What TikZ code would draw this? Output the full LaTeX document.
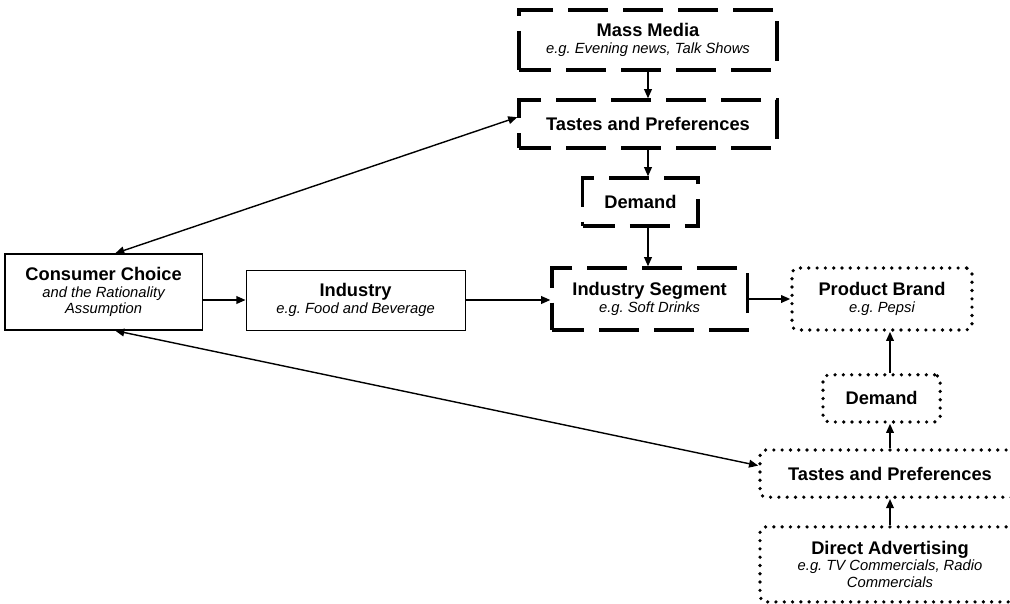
\documentclass[tikz,border=0pt]{standalone}
\usepackage{fontspec}
\setmainfont{Liberation Sans}
\usetikzlibrary{arrows.meta, positioning}
\frenchspacing
\newcommand{\boxtitle}[1]{{\fontsize{13}{15}\selectfont\bfseries #1}}
\newcommand{\boxnote}[1]{{\fontsize{10.5}{12}\selectfont\itshape #1}}

\begin{document}
\begin{tikzpicture}[
   plainbox/.style={rectangle, draw=black, line width=0.9pt, align=center,
                    inner sep=1pt},
   dashbox/.style={rectangle, draw=black, line width=2.4pt, align=center,
                   inner sep=1pt, dash pattern=on 1cm off 0.375cm,
                   dash phase=0.2cm},
   dotbox/.style={rectangle, draw=black, line width=2.6pt, align=center,
                  inner sep=1pt, rounded corners=4pt, line cap=round,
                  dash pattern=on 0pt off 5.9pt},
   conn/.style={-{Triangle[length=6.5pt, width=5.5pt]}, line width=1pt},
   biconn/.style={{Triangle[length=6.5pt, width=5.5pt]}-{Triangle[length=6.5pt, width=5.5pt]},
                  line width=1pt}]

\useasboundingbox (0,0) rectangle (25.25,-15.1);
\clip (0,0) rectangle (25.25,-15.1);

% main row
\node[plainbox, minimum width=4.93cm, minimum height=1.90cm] (cons) at (2.59,-7.30)
     {\boxtitle{Consumer Choice}\\
      \boxnote{and the Rationality}\\ \boxnote{Assumption}};
\node[plainbox, line width=0.7pt, minimum width=5.48cm, minimum height=1.50cm] (ind) at (8.89,-7.50)
     {\boxtitle{Industry}\\ \boxnote{e.g. Food and Beverage}};
\node[dashbox, minimum width=4.88cm, minimum height=1.55cm] (seg) at (16.24,-7.475)
     {\boxtitle{Industry Segment}\\ \boxnote{e.g. Soft Drinks}};
\node[dotbox, minimum width=4.50cm, minimum height=1.55cm] (brand) at (22.05,-7.475)
     {\boxtitle{Product Brand}\\ \boxnote{e.g. Pepsi}};

% upper column
\node[dashbox, minimum width=6.45cm, minimum height=1.50cm] (media) at (16.20,-1.00)
     {\boxtitle{Mass Media}\\ \boxnote{e.g. Evening news, Talk Shows}};
\node[dashbox, minimum width=6.45cm, minimum height=1.20cm] (tasteA) at (16.20,-3.10)
     {\boxtitle{Tastes and Preferences}};
\node[dashbox, minimum width=2.88cm, minimum height=1.20cm] (demA) at (16.01,-5.05)
     {\boxtitle{Demand}};

% lower column
\node[dotbox, minimum width=2.93cm, minimum height=1.18cm] (demB) at (22.04,-9.96)
     {\boxtitle{Demand}};
\node[dotbox, minimum width=6.50cm, minimum height=1.18cm] (tasteB) at (22.25,-11.84)
     {\boxtitle{Tastes and Preferences}};
\node[dotbox, minimum width=6.50cm, minimum height=1.875cm] (adv) at (22.25,-14.11)
     {\boxtitle{Direct Advertising}\\
      \boxnote{e.g. TV Commercials, Radio}\\ \boxnote{Commercials}};

% connectors
\draw[conn] (cons.east |- ind) -- (ind.west);
\draw[conn] (ind.east) -- (seg.west |- ind);
\draw[conn] (seg.east |- brand) -- (brand.west);
\draw[conn] (media.south) -- (tasteA.north);
\draw[conn] (tasteA.south) -- (demA.north -| tasteA);
\draw[conn] (demA.south -| tasteA) -- (seg.north -| tasteA);
\draw[conn] (adv.north) -- (tasteB.south);
\draw[conn] (tasteB.north) -- (demB.south -| tasteB);
\draw[conn] (demB.north -| tasteB) -- (brand.south -| tasteB);
\draw[biconn] ([xshift=0.29cm]cons.north) -- ([yshift=0.17cm]tasteA.west);
\draw[biconn] ([xshift=0.29cm]cons.south) -- ([yshift=0.2cm]tasteB.west);
\end{tikzpicture}
\end{document}
